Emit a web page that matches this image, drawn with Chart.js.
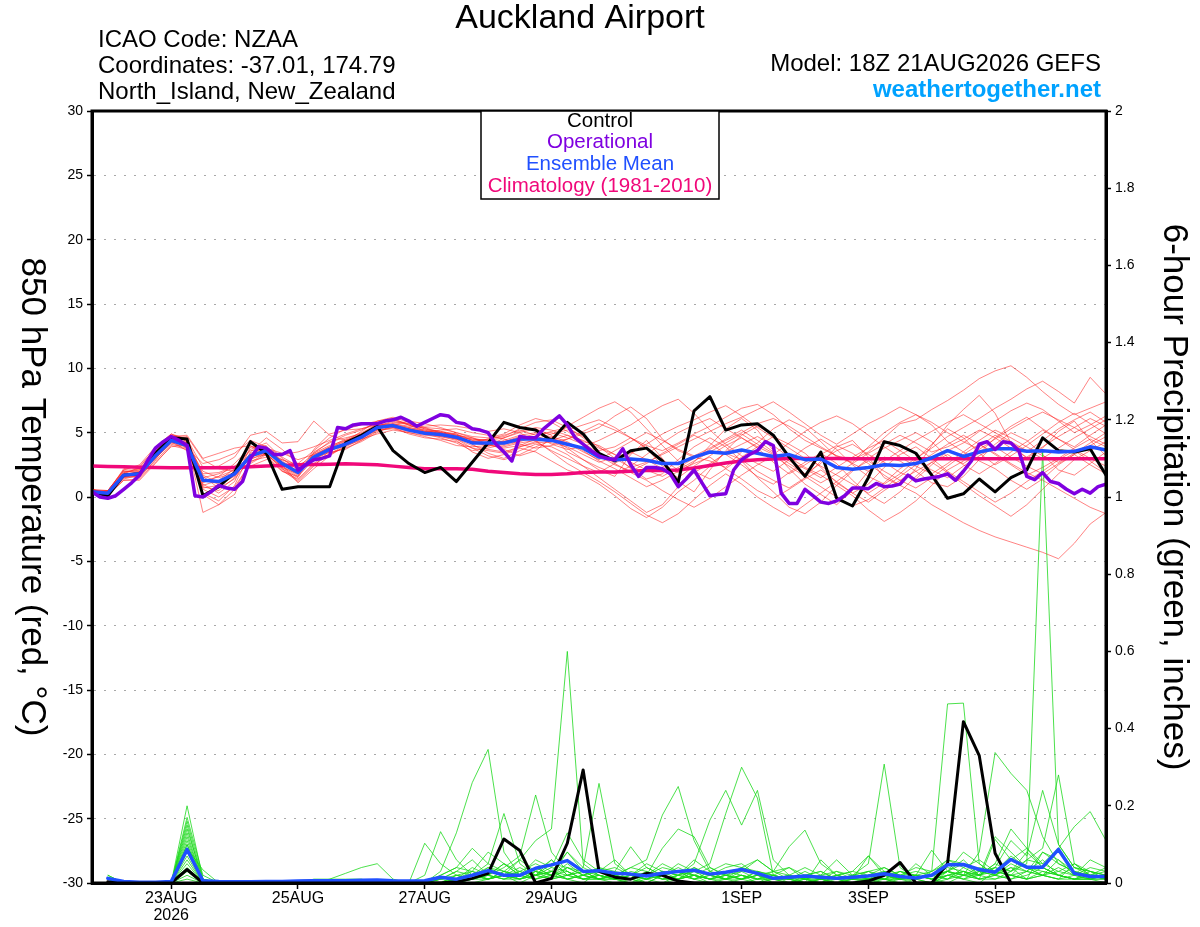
<!DOCTYPE html>
<html><head><meta charset="utf-8">
<script src="https://cdn.jsdelivr.net/npm/chart.js@4/dist/chart.umd.min.js"></script>
<style>html,body{margin:0;padding:0;background:#fff;}canvas{display:block;}</style>
</head><body>
<canvas id="c" width="1200" height="927"></canvas>
<script>
// ---------------- text ----------------
const TITLE = 'Auckland Airport';
const INFO_LINES = ['ICAO Code: NZAA', 'Coordinates: -37.01, 174.79', 'North_Island, New_Zealand'];
const MODEL_TEXT = 'Model: 18Z 21AUG2026 GEFS';
const SITE_TEXT = 'weathertogether.net';
const LEGEND_ITEMS = ['Control', 'Operational', 'Ensemble Mean', 'Climatology (1981-2010)'];
const Y_TITLE_LEFT = '850 hPa Temperature (red, \u00B0C)';
const Y_TITLE_RIGHT = '6-hour Precipitation (green, inches)';

// ---------------- time axis (hours after 18Z 21AUG2026) ----------------
const X_TICK_HOURS = [30, 78, 126, 174, 246, 294, 342];
const X_TICK_LABELS = [['23AUG', '2026'], '25AUG', '27AUG', '29AUG', '1SEP', '3SEP', '5SEP'];
const STEP_T = 6;      // temperature every 6 h from 0 h
const STEP_OP = 3;     // operational every 3 h from 0 h
const STEP_P = 6;      // 6-h precipitation, first value at 6 h

// ---------------- 850 hPa temperature (deg C) ----------------
const CONTROL_T = [0.4,0.1,1.7,1.8,3.4,4.6,4.5,0.1,0.8,1.9,4.3,3.4,0.6,
 0.8,0.8,0.8,4.2,4.8,5.5,3.6,2.6,1.9,2.3,1.2,2.7,4.2,
 5.8,5.4,5.2,4.4,5.8,4.9,3.4,2.8,3.6,3.8,2.8,1.15,6.7,
 7.8,5.2,5.6,5.7,4.8,3.1,1.6,3.5,-0.1,-0.7,1.5,4.3,4.0,
 3.4,1.7,-0.1,0.25,1.4,0.4,1.5,2.1,4.6,3.6,3.5,3.75,1.7];
const OPER_T = [0.4,0.0,-0.1,0.1,0.6,1.1,1.7,2.8,3.8,4.3,
 4.7,4.4,4.0,0.1,0.0,0.4,0.9,0.7,0.6,1.2,
 3.0,3.9,3.8,3.3,3.3,3.6,2.1,2.5,2.9,3.0,
 3.2,5.4,5.3,5.6,5.7,5.7,5.7,5.9,6.0,6.2,
 5.9,5.5,5.8,6.1,6.4,6.3,5.8,5.7,5.3,5.2,
 5.0,4.1,3.5,2.8,4.7,4.6,4.6,5.3,5.8,6.3,
 5.6,4.6,4.1,3.6,3.2,3.0,2.9,3.75,2.5,1.6,
 2.3,2.3,2.2,1.8,0.8,1.4,2.1,1.1,0.1,0.2,
 0.25,2.1,2.9,3.3,3.6,4.3,4.0,0.3,-0.5,-0.5,
 0.6,0.1,-0.4,-0.5,-0.3,0.1,0.7,0.7,0.65,1.05,
 0.8,0.85,1.0,1.7,1.25,1.4,1.5,1.6,1.8,1.3,
 2.0,2.8,4.1,4.3,3.7,4.3,4.2,3.6,1.6,1.35,
 1.9,1.2,1.05,0.6,0.25,0.6,0.3,0.8,1.0];
const MEAN_T = [0.4,0.3,1.7,1.8,3.2,4.4,4.0,1.3,1.2,1.8,3.2,3.6,2.6,
 1.9,3.1,3.7,4.1,4.65,5.4,5.55,5.2,4.95,4.85,4.65,4.2,4.2,
 4.2,4.5,4.5,4.4,4.1,3.8,3.1,2.9,2.95,2.85,2.6,2.6,3.1,
 3.5,3.4,3.65,3.4,3.15,3.3,2.9,2.95,2.3,2.15,2.3,2.5,2.45,
 2.6,3.05,3.6,3.15,3.5,3.75,3.75,3.55,3.6,3.5,3.55,3.9,3.65];
const CLIM_T = [2.4,2.38,2.35,2.32,2.3,2.28,2.27,2.27,2.27,2.3,2.35,2.4,2.45,
 2.5,2.52,2.55,2.58,2.55,2.5,2.4,2.3,2.2,2.2,2.2,2.15,2.0,
 1.9,1.8,1.75,1.75,1.8,1.9,1.95,1.95,2.0,2.05,2.06,2.1,2.25,
 2.45,2.65,2.8,2.9,2.95,3.0,3.0,3.0,3.0,2.98,2.97,2.97,2.97,
 2.97,2.97,2.97,2.97,2.97,2.97,2.97,2.97,2.97,2.97,2.97,2.97,2.97];

// ensemble members, temperature
const T_M01 = [0.5,0.4,1.9,2.2,3.6,4.8,4.6,1.0,0.3,1.2,3.9,4.0,2.2, 1.5,3.5,4.2,4.8,5.2,5.8,6.0,5.6,5.2,5.1,4.9,4.4,3.9, 4.6,5.0,5.3,4.8,3.5,2.9,2.1,1.6,3.3,4.4,3.0,1.2,0.4, 2.1,3.6,4.8,5.5,4.9,3.0,1.8,2.6,3.9,4.4,3.1,1.5,0.9, 2.2,4.0,5.6,6.8,7.9,6.5,4.2,3.0,3.8,5.1,5.9,4.4,3.2];
const T_M02 = [0.6,0.2,1.5,1.6,2.8,4.1,3.8,2.6,2.9,3.4,4.4,3.9,3.1, 2.4,2.8,3.3,3.9,4.5,5.3,5.7,5.5,5.4,5.3,5.0,4.6,4.3, 4.0,4.3,4.7,5.1,5.4,4.6,3.6,3.9,4.6,3.8,2.4,1.9,2.7, 4.0,5.3,6.1,5.2,3.6,2.2,1.0,0.2,-0.6,0.5,2.0,3.1,2.8, 2.0,1.1,0.8,1.6,2.9,4.1,5.0,4.4,3.3,2.1,1.7,2.6,3.5];
const T_M03 = [0.4,0.5,2.1,2.5,3.9,4.9,4.3,-1.2,-0.6,0.2,2.8,3.1,2.0, 1.4,2.6,3.4,3.8,4.3,5.0,5.6,5.9,5.7,5.4,5.0,4.7,4.6, 4.9,5.6,6.1,5.8,5.1,4.3,4.0,3.3,2.2,1.4,1.8,2.9,3.9, 4.6,3.9,2.8,1.5,0.4,-0.8,-1.3,-0.4,0.9,2.0,3.0,3.8,4.4, 5.0,4.3,3.1,2.6,3.4,4.6,5.5,6.2,5.3,4.5,3.9,4.8,5.6];
const T_M04 = [0.3,0.1,1.3,1.4,2.7,3.9,4.1,2.0,1.5,1.9,3.0,3.8,3.4, 2.9,3.3,3.9,4.5,5.0,5.6,5.4,4.9,4.6,4.5,4.3,3.8,3.6, 3.4,3.9,4.2,4.3,4.5,4.9,5.4,6.3,7.0,6.1,4.5,3.6,3.1, 2.8,2.3,3.5,4.2,5.3,6.0,5.4,4.3,3.1,2.7,3.9,5.0,5.8, 6.4,5.6,4.3,3.5,2.8,2.2,1.3,0.6,1.4,2.5,3.3,4.0,4.7];
const T_M05 = [0.5,0.3,1.8,1.9,3.3,4.6,4.4,0.6,0.0,0.8,2.6,3.3,2.4, 1.7,3.4,4.3,4.6,4.9,5.5,5.8,5.7,5.3,5.0,4.9,4.1,3.4, 3.0,3.6,4.1,3.9,3.3,2.4,1.5,0.6,-0.3,-1.2,-0.6,0.8,1.9, 2.6,3.4,2.9,2.0,1.3,0.7,1.5,2.8,3.6,4.1,3.3,2.7,1.9, 1.4,2.5,3.6,4.2,5.1,5.9,6.7,7.3,6.8,5.9,5.0,5.6,6.3];
const T_M06 = [0.4,0.4,1.6,1.8,3.1,4.3,3.6,0.9,1.3,2.2,3.7,4.2,3.0, 2.1,2.9,3.5,4.3,5.1,5.9,6.1,5.6,5.1,4.8,4.5,4.3,4.5, 4.8,5.2,4.8,4.1,3.7,3.9,4.4,5.0,5.6,6.4,7.1,7.6,6.5, 5.2,4.1,3.2,2.6,2.0,2.9,3.8,4.5,3.7,2.5,1.6,1.0,1.8, 2.9,4.1,5.3,4.6,3.4,2.5,3.2,4.0,4.9,5.8,6.5,5.7,4.9];
const T_M07 = [0.6,0.5,2.0,2.0,3.5,4.7,4.2,1.8,1.9,2.4,3.3,3.4,2.1, 1.2,2.4,3.6,4.0,4.4,5.2,5.3,5.0,4.8,4.7,4.4,3.5,3.0, 3.3,3.8,3.5,2.8,2.1,1.7,1.0,0.1,-0.9,-1.6,-0.8,0.4,1.3, 2.4,3.5,4.1,4.7,4.0,3.1,2.3,1.7,0.9,0.1,-1.0,-1.9,-1.2, -0.3,0.9,2.1,2.8,3.9,4.8,4.2,3.5,4.4,5.3,6.0,6.6,5.8];
const T_M08 = [0.5,0.2,1.4,1.7,3.0,4.2,4.3,1.6,0.7,1.4,2.9,3.5,2.7, 2.0,3.1,3.8,4.2,4.7,5.4,5.5,5.3,5.0,5.2,5.3,5.0,4.8, 4.5,4.1,3.8,4.0,4.5,5.1,5.7,5.2,4.6,4.0,3.6,4.2,4.9, 5.5,6.2,6.9,7.2,6.4,5.3,4.4,3.8,3.2,2.9,3.5,4.6,5.7, 6.0,6.8,7.5,8.3,9.2,9.8,10.2,9.3,8.2,7.2,6.4,6.9,7.4];
const T_M09 = [0.4,0.3,1.7,1.5,2.9,4.5,4.7,2.9,2.2,2.0,2.4,2.9,3.3, 3.5,3.9,4.4,4.9,5.3,5.7,5.6,5.2,5.0,4.8,4.6,4.5,4.4, 4.3,4.6,4.9,5.0,4.6,4.1,3.2,2.5,2.0,2.6,3.4,4.1,4.8, 4.2,3.3,2.5,1.6,1.0,1.9,2.7,3.4,2.6,1.3,0.2,-0.5,0.4, 1.6,2.7,3.3,2.5,1.8,2.6,3.5,4.3,5.2,4.5,3.7,3.0,2.4];
const T_M10 = [0.5,0.4,1.9,2.1,3.4,4.5,3.9,0.3,-0.3,0.9,3.5,4.6,3.7, 2.6,3.6,4.6,5.3,5.6,5.9,6.2,5.8,5.4,5.0,4.8,4.6,4.1, 3.7,3.2,3.6,4.6,5.5,6.2,6.9,7.4,6.6,5.3,4.0,2.8,2.0, 1.4,2.2,3.1,3.9,4.7,4.1,3.4,2.3,1.1,0.3,1.0,2.3,3.3, 3.9,3.0,2.0,1.2,0.4,-0.4,0.3,1.2,2.0,2.9,3.6,2.8,1.9];
const T_M11 = [0.4,0.2,1.6,1.9,3.2,4.3,4.0,1.1,1.6,2.6,3.9,3.7,2.3, 1.8,3.0,3.5,3.7,4.4,5.1,5.4,5.1,4.9,4.6,4.2,3.6,3.8, 4.1,4.4,4.6,4.2,3.9,3.3,2.7,3.1,3.5,2.9,2.2,1.5,2.4, 3.2,4.0,4.6,3.8,2.7,1.8,2.5,3.3,4.0,3.4,2.6,1.7,0.9, 0.3,-0.6,-1.3,-2.0,-2.6,-3.1,-3.5,-3.9,-4.3,-4.8,-3.6,-2.1,-1.2];
const T_M12 = [0.6,0.3,1.8,1.6,3.1,4.4,4.2,1.4,1.0,1.6,3.1,3.6,2.9, 2.3,3.4,4.0,4.4,4.8,5.5,5.9,5.6,5.5,5.6,5.5,5.3,5.1, 5.3,5.0,4.3,3.6,3.0,2.4,1.9,2.6,3.4,4.1,4.9,5.5,6.0, 6.6,7.1,6.3,5.4,4.6,3.8,3.0,2.4,1.7,1.0,0.3,1.1,2.2, 3.0,3.8,4.7,5.4,6.1,6.9,7.6,8.4,9.0,8.2,7.3,9.3,8.0];
const T_M13 = [0.3,0.4,2.2,2.4,3.7,4.6,4.5,2.3,2.4,3.1,4.8,5.1,4.2, 4.3,5.9,4.8,4.4,4.5,4.9,5.2,5.0,4.7,4.4,4.0,3.9,4.0, 3.9,4.2,4.4,4.7,4.3,3.6,2.8,2.2,1.5,0.8,1.3,2.0,2.6, 3.1,2.2,1.4,0.5,-0.1,0.6,1.4,2.1,1.2,0.3,-0.4,0.5,1.3, 2.0,2.7,1.9,1.0,0.1,-0.7,-1.5,-0.6,0.6,1.8,2.9,3.6,4.3];
const T_M14 = [0.5,0.1,1.5,1.8,3.3,4.7,4.8,3.0,3.4,3.8,4.0,3.2,2.0, 1.6,3.7,4.9,5.2,5.3,5.6,5.7,5.4,5.2,4.9,4.5,4.0,3.7, 3.5,3.9,4.3,4.5,3.8,2.9,2.3,1.8,2.4,3.3,4.2,5.0,5.6, 6.1,5.3,4.6,3.9,3.3,4.2,5.1,5.8,6.3,5.7,4.8,3.9,3.1, 2.4,1.8,2.6,3.5,4.4,5.2,4.6,3.9,3.2,2.7,3.4,4.2,5.0];
const T_M15 = [0.4,0.3,1.7,2.0,3.4,4.6,4.1,0.8,0.5,1.5,3.4,3.9,2.5, 1.1,2.2,3.2,4.0,4.6,5.2,5.4,5.3,5.1,5.0,4.7,4.2,4.0, 4.4,4.8,5.0,4.6,4.2,3.5,2.9,3.6,4.3,5.0,4.4,3.7,3.2, 3.8,4.5,5.2,4.4,3.5,2.8,2.2,1.5,2.3,3.1,3.8,4.4,3.6, 2.8,2.1,1.5,2.4,3.2,3.9,3.1,2.4,1.8,2.6,3.3,2.5,1.8];
const T_M16 = [0.5,0.5,2.0,1.9,3.3,4.4,4.0,1.5,1.8,2.3,3.6,3.7,2.8, 2.0,3.2,3.9,4.3,4.8,5.5,5.6,5.4,5.1,5.0,4.8,4.4,4.2, 4.3,4.7,4.4,3.5,2.6,1.9,1.2,0.4,-0.5,-1.4,-2.0,-1.3,-0.2, 0.9,1.8,1.0,0.0,-0.8,-1.5,-0.6,0.3,1.2,2.1,2.8,2.0,1.3, 0.7,1.5,2.4,3.3,4.1,3.4,2.6,1.9,1.3,0.6,-0.1,-0.8,-1.3];
const T_M17 = [0.6,0.2,1.3,1.3,2.6,4.0,3.7,1.2,1.6,2.1,3.2,3.3,2.9, 2.5,3.0,3.6,4.1,4.6,5.3,5.5,5.3,5.0,4.9,4.6,4.3,4.5, 4.7,5.3,5.8,6.0,5.4,4.7,3.9,3.0,2.3,2.7,3.3,3.9,4.5, 5.1,5.7,6.2,6.8,7.4,6.6,5.7,4.8,4.1,4.9,5.7,6.3,7.0, 6.4,5.8,5.0,4.3,3.7,4.5,5.3,6.0,6.6,6.0,5.4,4.7,4.1];
const T_M18 = [0.4,0.4,1.8,2.3,3.8,4.9,4.5,1.7,1.1,1.7,3.0,3.3,2.3, 1.6,2.9,3.7,4.2,4.8,5.4,5.6,5.3,5.0,4.7,4.5,3.8,3.2, 2.9,3.3,3.9,4.4,4.8,4.2,3.4,2.6,1.9,1.3,0.5,-0.2,-0.8, -0.1,0.8,1.7,2.5,3.2,2.4,1.6,0.8,0.0,-0.7,-0.2,0.7,1.6, 2.5,3.3,4.1,4.8,4.1,3.3,2.5,1.7,2.3,3.0,3.8,4.5,3.9];
const T_M19 = [0.5,0.3,1.6,1.7,3.0,4.2,3.9,0.2,-0.6,0.6,2.7,3.4,2.2, 1.3,2.5,3.3,4.1,4.7,5.3,5.5,5.2,4.9,4.8,4.6,4.3,4.1, 3.8,4.0,4.5,4.9,5.2,5.6,6.0,5.4,4.6,3.8,2.9,2.1,2.8, 3.5,4.2,4.9,4.1,3.4,2.6,1.8,1.1,1.8,2.6,3.4,4.1,4.8, 4.2,3.5,3.9,4.5,5.2,4.6,3.8,3.1,3.9,4.7,5.4,6.1,5.5];
const T_M20 = [0.4,0.5,2.1,2.1,3.5,4.5,3.8,0.7,0.9,1.7,3.3,3.8,2.7, 1.9,3.3,3.8,4.4,4.9,5.7,6.0,5.7,5.3,5.1,4.8,4.5,4.4, 4.6,5.1,5.4,5.2,4.8,4.4,3.8,3.3,2.7,2.1,1.6,2.3,3.0, 3.7,4.4,5.0,5.7,6.1,5.5,4.7,3.9,3.2,2.6,2.0,2.8,3.6, 4.4,5.1,5.8,6.4,5.7,5.0,4.3,3.6,3.0,3.8,4.6,5.3,6.0];
const MEMBERS_T = [T_M01,T_M02,T_M03,T_M04,T_M05,T_M06,T_M07,T_M08,T_M09,T_M10,
                   T_M11,T_M12,T_M13,T_M14,T_M15,T_M16,T_M17,T_M18,T_M19,T_M20];

// ---------------- 6-hour precipitation (inches) ----------------
const CONTROL_P = [0.003,0,0,0,0,0.035,0,0,0,0,0.002,0.003,0.004,0.005,0.004,0.004,
 0.002,0,0.001,0,0,0,0.003,0.012,0.025,0.114,0.084,0,0.012,0.103,0.293,0.03,
 0.015,0.01,0.025,0.02,0.005,0,0,0,0,0,0,0,0,0,0,0,
 0.005,0.02,0.053,0,0,0.05,0.418,0.33,0.077,0,0,0,0,0,0,0];
const MEAN_P = [0.012,0.004,0.002,0.002,0.004,0.087,0.006,0.004,0.003,0.003,0.004,0.004,0.005,0.006,0.006,0.006,
 0.007,0.008,0.006,0.005,0.006,0.015,0.01,0.02,0.032,0.02,0.02,0.038,0.047,0.058,0.03,0.032,
 0.025,0.023,0.018,0.025,0.03,0.033,0.023,0.028,0.035,0.025,0.012,0.015,0.018,0.015,0.012,0.015,
 0.018,0.024,0.017,0.013,0.02,0.047,0.048,0.035,0.028,0.061,0.041,0.041,0.087,0.025,0.017,0.017];

const P_M01 = [0.01,0,0,0,0,0.20,0.01,0,0,0,0,0,0,0,0,0, 0,0,0,0,0,0.02,0.04,0.09,0.05,0.03,0.06,0.11,0.14,0.60,0.05,0.02, 0.01,0,0.02,0.05,0.03,0.01,0,0,0.01,0.03,0.02,0,0,0,0.01,0, 0,0.02,0.01,0,0,0.03,0.08,0.05,0.02,0.04,0.01,0.02,0.06,0.03,0.01,0];
const P_M02 = [0.02,0,0,0,0,0.17,0.02,0,0,0,0,0,0,0.01,0.01,0.01, 0.01,0,0,0,0,0.03,0.13,0.26,0.346,0.08,0.02,0.04,0.02,0.01,0,0.03, 0.06,0.02,0,0,0.01,0.04,0.02,0.01,0,0,0.02,0.04,0.01,0,0,0.02, 0.03,0.01,0,0,0,0.02,0.01,0,0.03,0.07,0.04,0.02,0.01,0.05,0.02,0.01];
const P_M03 = [0.01,0,0,0,0,0.15,0,0,0,0,0,0,0,0,0,0, 0,0,0,0,0.103,0.05,0.02,0.01,0.03,0.02,0,0.02,0.04,0.03,0.01,0.01, 0.02,0.04,0.03,0.01,0.02,0.03,0.05,0.18,0.30,0.22,0.02,0.01,0.03,0.01,0,0, 0.01,0,0.02,0.01,0,0.01,0.04,0.06,0.03,0.02,0.01,0.08,0.05,0.03,0.02,0.04];
const P_M04 = [0,0,0,0,0,0.14,0.01,0,0,0,0,0,0,0,0,0, 0,0,0,0,0.02,0.133,0.06,0.02,0.05,0.18,0.05,0.02,0.01,0.04,0.02,0.01, 0,0.01,0,0.02,0.04,0.02,0.01,0,0,0.01,0.02,0.01,0,0.01,0.03,0.02, 0.05,0.308,0.04,0.01,0,0.02,0.03,0.01,0.02,0.06,0.09,0.04,0.02,0.01,0.03,0.02];
const P_M05 = [0.01,0,0,0,0,0.13,0,0,0,0,0,0,0,0,0,0, 0,0,0,0,0,0.01,0.03,0.06,0.02,0.04,0.07,0.228,0.08,0.03,0.01,0.02, 0.01,0.02,0.04,0.02,0.01,0.02,0,0.01,0.04,0.02,0,0,0.01,0.02,0.01,0, 0.01,0,0.01,0.02,0.03,0.464,0.466,0.05,0.02,0.04,0.03,0.08,0.06,0.02,0.01,0.02];
const P_M06 = [0.01,0,0,0,0,0.12,0,0,0,0,0,0,0,0,0,0, 0,0,0,0,0,0,0.01,0.04,0.02,0.01,0.03,0.05,0.03,0.08,0.04,0.258, 0.05,0.02,0.01,0.03,0.01,0.02,0.04,0.02,0.01,0,0.01,0.02,0,0.01,0.02,0.01, 0.02,0.03,0.01,0.02,0.01,0.03,0.02,0.08,0.338,0.284,0.24,0.12,0.05,0.03,0.02,0.01];
const P_M07 = [0,0,0,0,0,0.11,0,0,0,0,0,0,0,0,0,0, 0,0,0,0,0,0,0,0.01,0.02,0.05,0.02,0.01,0.03,0.02,0.04,0.02, 0.01,0,0.01,0.02,0.03,0.01,0.02,0.01,0.03,0.06,0.03,0.01,0,0.01,0,0.01, 0.02,0.01,0,0.01,0.02,0.03,0.05,0.02,0.04,0.03,0.05,1.12,0.10,0.04,0.02,0.01];
const P_M08 = [0.01,0,0,0,0,0.10,0,0,0,0,0,0,0,0,0,0, 0,0,0,0,0,0,0.02,0.03,0.01,0.02,0.06,0.03,0.02,0.05,0.02,0.03, 0.02,0.04,0.06,0.176,0.25,0.11,0.03,0.01,0.02,0,0.01,0,0.02,0.01,0,0.01, 0,0.01,0.03,0.02,0.01,0,0.02,0.04,0.03,0.02,0.06,0.05,0.09,0.146,0.185,0.11];
const P_M09 = [0,0,0,0,0,0.10,0,0,0,0,0,0,0,0,0,0, 0,0,0,0,0,0.01,0.02,0.01,0.04,0.03,0.01,0.02,0.05,0.04,0.02,0.01, 0.03,0.02,0.01,0.03,0.02,0.05,0.163,0.24,0.15,0.24,0.06,0.02,0.01,0,0.02,0.01, 0.03,0.02,0.01,0.05,0.02,0.03,0.01,0.02,0.12,0.08,0.04,0.02,0.03,0.05,0.02,0.01];
const P_M10 = [0.02,0,0,0,0,0.09,0.034,0,0,0,0,0,0,0,0,0, 0,0,0,0,0,0.01,0,0.02,0.01,0.03,0.02,0.04,0.02,0.08,0.03,0.01, 0.02,0.01,0,0.02,0.01,0.03,0.02,0.04,0.05,0.02,0.03,0.094,0.137,0.05,0.02,0.03, 0.07,0.02,0.01,0.02,0.085,0.03,0.02,0.01,0.113,0.06,0.04,0.03,0.02,0.04,0.03,0.02];
const P_M11 = [0.01,0,0,0,0,0.08,0.01,0,0,0,0,0,0,0,0.01,0.025, 0.04,0.05,0.01,0,0,0,0.01,0.03,0.02,0.05,0.03,0.02,0.06,0.02,0.01,0.02, 0.01,0.03,0.02,0.09,0.14,0.12,0.04,0.02,0.01,0.03,0.02,0.01,0,0.06,0.02,0.01, 0.02,0.04,0.02,0.01,0.03,0.06,0.04,0.02,0.05,0.14,0.09,0.05,0.03,0.02,0.04,0.03];
const P_M12 = [0,0,0,0,0,0.07,0,0,0,0,0,0,0,0,0,0, 0,0,0,0,0,0.01,0.03,0.02,0.01,0.02,0.04,0.02,0.03,0.01,0.02,0.04, 0.03,0.094,0.04,0.02,0.05,0.03,0.01,0.02,0.04,0.03,0.01,0.02,0.04,0.02,0.03,0.01, 0.07,0.03,0.01,0.02,0.01,0.02,0.03,0.02,0.05,0.03,0.06,0.09,0.28,0.05,0.03,0.01];
const P_M13 = [0.01,0,0,0,0,0.06,0,0,0,0,0,0,0,0,0,0, 0,0,0,0,0,0,0,0,0.01,0.02,0.01,0.03,0.02,0.04,0.03,0.02, 0.01,0.02,0.01,0,0.02,0.01,0.03,0.02,0.01,0.02,0.01,0,0.01,0.02,0.06,0.02, 0.01,0.03,0.02,0.04,0.03,0.05,0.02,0.03,0.02,0.05,0.03,0.02,0.04,0.02,0.06,0.04];
const P_M14 = [0,0,0,0,0,0.05,0,0,0,0,0,0,0,0,0,0, 0,0,0,0,0,0,0.01,0.02,0.04,0.02,0.01,0.03,0.06,0.02,0.03,0.01, 0.02,0.01,0.03,0.01,0.02,0.04,0.02,0.01,0.02,0.01,0.03,0.02,0.01,0,0.02,0.03, 0.02,0.01,0.03,0.02,0.01,0.03,0.06,0.02,0.01,0.03,0.08,0.04,0.02,0.01,0.02,0.03];
const P_M15 = [0,0,0,0,0,0.04,0,0,0,0,0,0,0,0,0,0, 0,0,0,0,0,0,0.02,0.01,0.03,0.02,0.03,0.01,0.02,0.03,0.01,0.02, 0.01,0.02,0.01,0.02,0.03,0.02,0.01,0.03,0.02,0.01,0.02,0.01,0.02,0.01,0.01,0.02, 0.01,0.02,0.01,0.01,0.02,0.04,0.03,0.01,0.02,0.01,0.03,0.02,0.01,0.02,0.01,0.01];
const P_M16 = [0.01,0,0,0,0,0.03,0,0,0,0,0,0,0,0,0,0, 0,0,0,0,0,0,0,0.01,0.02,0.01,0.02,0.03,0.01,0.02,0.03,0.01, 0.02,0.01,0.02,0.01,0.01,0.02,0.01,0.02,0.03,0.01,0.01,0.02,0.01,0.01,0.02,0.01, 0.01,0.01,0.02,0.01,0.02,0.03,0.02,0.02,0.03,0.02,0.01,0.03,0.02,0.01,0.02,0.01];
const P_M17 = [0,0,0,0,0,0.02,0,0,0,0,0,0,0,0,0,0, 0,0,0,0,0,0,0.01,0.02,0.01,0.03,0.02,0.01,0.02,0.01,0.02,0.01, 0.01,0.02,0.01,0.03,0.02,0.01,0.02,0.01,0.01,0.02,0.01,0.01,0.02,0.01,0,0.01, 0.02,0.01,0.01,0.02,0.01,0.02,0.01,0.03,0.02,0.01,0.02,0.04,0.02,0.01,0.01,0.02];
const P_M18 = [0,0,0,0,0,0.01,0,0,0,0,0,0,0,0,0,0, 0,0,0,0,0,0,0.01,0.01,0.02,0.01,0.01,0.02,0.01,0.02,0.01,0.01, 0.01,0.01,0.02,0.01,0.01,0.02,0.01,0.01,0.02,0.01,0.01,0.01,0.01,0.01,0.01,0.01, 0.01,0.01,0.01,0.01,0.02,0.01,0.02,0.01,0.01,0.02,0.01,0.02,0.01,0.01,0.01,0.01];
const P_M19 = [0,0,0,0,0,0,0,0,0,0,0,0,0,0,0,0, 0,0,0,0,0,0,0,0.01,0.01,0.02,0.01,0.02,0.03,0.01,0.02,0.04, 0.02,0.01,0.02,0.04,0.03,0.02,0.01,0.02,0.01,0.02,0.01,0.01,0.02,0.03,0.01,0.01, 0.01,0.02,0.03,0.01,0.02,0.01,0.03,0.02,0.04,0.02,0.03,0.06,0.02,0.01,0.01,0.02];
const P_M20 = [0.015,0,0,0,0,0.16,0.01,0,0,0,0,0,0,0,0,0, 0,0,0,0,0,0.02,0.04,0.03,0.08,0.05,0.02,0.06,0.04,0.13,0.06,0.03, 0.04,0.02,0.05,0.03,0.02,0.06,0.03,0.05,0.04,0.06,0.03,0.04,0.02,0.03,0.01,0.02, 0.03,0.04,0.02,0.03,0.02,0.06,0.05,0.03,0.04,0.11,0.07,0.24,0.10,0.04,0.03,0.02];
const MEMBERS_P = [P_M01,P_M02,P_M03,P_M04,P_M05,P_M06,P_M07,P_M08,P_M09,P_M10,
                   P_M11,P_M12,P_M13,P_M14,P_M15,P_M16,P_M17,P_M18,P_M19,P_M20];

// ---------------- colours ----------------
const C_RED = 'rgba(255,30,30,0.62)';
const C_GREEN = 'rgba(20,215,20,0.85)';
const C_CONTROL = '#000000';
const C_OPER = '#7f00e0';
const C_MEAN = '#2050ff';
const C_CLIM = '#f0087a';
const C_SITE = '#00a2ff';
const FONT = "'Liberation Sans', Arial, Helvetica, sans-serif";

// ---------------- build datasets ----------------
const toXY = (arr, step, first) => arr.map((v, i) => ({x: first + i * step, y: v}));
const datasets = [];
const line = (label, arr, step, first, axis, color, width, order) => ({
  label, data: toXY(arr, step, first), yAxisID: axis, borderColor: color,
  borderWidth: width, pointRadius: 0, tension: 0, fill: false, order,
  borderJoinStyle: 'round', borderCapStyle: 'round'
});
datasets.push(line('Operational', OPER_T, STEP_OP, 0, 'y', C_OPER, 3.5, 1));
datasets.push(line('Ensemble Mean', MEAN_T, STEP_T, 0, 'y', C_MEAN, 3.5, 2));
datasets.push(line('Ensemble Mean precip', MEAN_P, STEP_P, STEP_P, 'y2', C_MEAN, 3.5, 2));
datasets.push(line('Control', CONTROL_T, STEP_T, 0, 'y', C_CONTROL, 3, 3));
datasets.push(line('Control precip', CONTROL_P, STEP_P, STEP_P, 'y2', C_CONTROL, 3, 3));
datasets.push(line('Climatology (1981-2010)', CLIM_T, STEP_T, 0, 'y', C_CLIM, 3.5, 4));
MEMBERS_P.forEach((m, k) => datasets.push(line('Member ' + (k + 1) + ' precip', m, STEP_P, STEP_P, 'y2', C_GREEN, 0.9, 5)));
MEMBERS_T.forEach((m, k) => datasets.push(line('Member ' + (k + 1), m, STEP_T, 0, 'y', C_RED, 0.9, 6)));

// ---------------- decorations ----------------
const decor = {
  id: 'decor',
  afterDraw(chart) {
    const ctx = chart.ctx, a = chart.chartArea;
    ctx.save();
    // frame
    ctx.lineWidth = 3; ctx.strokeStyle = '#000';
    ctx.strokeRect(a.left, a.top, a.right - a.left, a.bottom - a.top);
    // title + header texts
    ctx.fillStyle = '#000'; ctx.textBaseline = 'middle';
    ctx.font = '34px ' + FONT; ctx.textAlign = 'center';
    ctx.fillText(TITLE, 580, 19);
    ctx.font = '24px ' + FONT; ctx.textAlign = 'left';
    INFO_LINES.forEach((t, i) => ctx.fillText(t, 98, 40 + i * 26));
    ctx.textAlign = 'right';
    ctx.fillText(MODEL_TEXT, 1101, 64);
    ctx.font = 'bold 24px ' + FONT; ctx.fillStyle = C_SITE;
    ctx.fillText(SITE_TEXT, 1101, 90);
    // legend box
    const bx = 481, bw = 238, by = a.top, bh = 199 - a.top;
    ctx.fillStyle = '#fff'; ctx.fillRect(bx, by, bw, bh);
    ctx.lineWidth = 1.5; ctx.strokeStyle = '#000'; ctx.strokeRect(bx, by, bw, bh);
    const colors = [C_CONTROL, C_OPER, C_MEAN, C_CLIM];
    ctx.font = '20.5px ' + FONT; ctx.textAlign = 'center';
    LEGEND_ITEMS.forEach((t, i) => { ctx.fillStyle = colors[i]; ctx.fillText(t, bx + bw / 2, 121 + i * 21.7); });
    // axis titles
    ctx.fillStyle = '#000'; ctx.font = '35px ' + FONT;
    const rot = (t, x, y) => { ctx.save(); ctx.translate(x, y); ctx.rotate(Math.PI / 2); ctx.textAlign = 'center'; ctx.textBaseline = 'middle'; ctx.fillText(t, 0, 0); ctx.restore(); };
    rot(Y_TITLE_LEFT, 32, (a.top + a.bottom) / 2);
    rot(Y_TITLE_RIGHT, 1174, (a.top + a.bottom) / 2);
    ctx.restore();
  }
};

Chart.defaults.font.family = FONT;
Chart.defaults.color = '#000';

new Chart(document.getElementById('c'), {
  type: 'line',
  data: {datasets},
  options: {
    responsive: false, animation: false, devicePixelRatio: 1,
    layout: {padding: {top: 111, left: 0, right: 0, bottom: 0}},
    plugins: {legend: {display: false}, tooltip: {enabled: false}, title: {display: false}},
    scales: {
      x: {
        type: 'linear', position: 'bottom', min: 0, max: 384,
        afterBuildTicks: ax => { ax.ticks = X_TICK_HOURS.map(v => ({value: v})); },
        afterFit: ax => { ax.height = 44; },
        grid: {display: true, drawOnChartArea: false, drawTicks: true, tickLength: 6, tickColor: '#000', tickWidth: 1.5},
        border: {display: true, color: '#000', width: 3},
        ticks: {autoSkip: false, maxRotation: 0, minRotation: 0, color: '#000', padding: 1,
          font: {size: 16, lineHeight: 1.05},
          callback: v => { const i = X_TICK_HOURS.indexOf(v); return i >= 0 ? X_TICK_LABELS[i] : ''; }}
      },
      y: {
        position: 'left', min: -30, max: 30,
        afterFit: ax => { ax.width = 92; },
        ticks: {stepSize: 5, color: '#000', font: {size: 14}, padding: 4},
        grid: {color: '#a8a8a8', lineWidth: 1, tickColor: '#000', tickLength: 5, tickWidth: 1.5, tickBorderDash: []},
        border: {display: true, color: '#000', width: 3, dash: [2, 8]}
      },
      y2: {
        position: 'right', min: 0, max: 2,
        afterFit: ax => { ax.width = 94; },
        ticks: {stepSize: 0.2, color: '#000', font: {size: 14}, padding: 4,
          callback: v => String(Number(v.toFixed(1)))},
        grid: {drawOnChartArea: false, tickColor: '#000', tickLength: 5, tickWidth: 1.5},
        border: {display: true, color: '#000', width: 3}
      }
    }
  },
  plugins: [decor]
});
</script>
</body></html>
